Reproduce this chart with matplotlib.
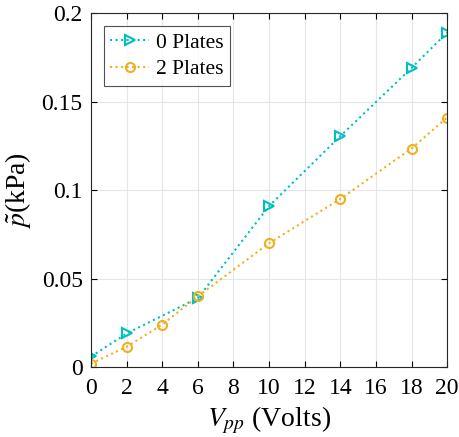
import matplotlib
matplotlib.use("Agg")
import matplotlib.pyplot as plt

plt.rcParams['font.family'] = ['Liberation Serif', 'DejaVu Serif']
plt.rcParams['mathtext.fontset'] = 'stix'

volts = [0, 2, 6, 10, 14, 18, 20]
p_0plates = [0.006, 0.019, 0.039, 0.091, 0.1305, 0.169, 0.189]
volts_2 = [0, 2, 4, 6, 10, 14, 18, 20]
p_2plates = [0.002, 0.0115, 0.024, 0.040, 0.070, 0.095, 0.1235, 0.141]

fig = plt.figure(figsize=(4.6, 4.37), dpi=100)
ax = fig.add_axes([0.198, 0.160, 0.774, 0.810])

ax.plot(volts, p_0plates, ls=':', lw=1.5, color='#00BFBF', marker='>',
        mfc='none', ms=7, mew=1.5, label='0 Plates')
ax.plot(volts_2, p_2plates, ls=':', lw=1.5, color='#EDB120', marker='o',
        mfc='none', ms=6.5, mew=1.5, label='2 Plates')

ax.set_xlim(0, 20)
ax.set_ylim(0, 0.2)
ax.set_xticks(range(0, 21, 2))
ax.set_yticks([0, 0.05, 0.1, 0.15, 0.2])
ax.set_yticklabels(['0', '0.05', '0.1', '0.15', '0.2'])
ax.grid(True, color='#e6e6e6', lw=0.8)
ax.set_axisbelow(True)
ax.tick_params(direction='in', top=True, right=True, labelsize=17, length=4)
ax.tick_params(axis='x', pad=8)
ax.tick_params(axis='y', pad=6)
for s in ax.spines.values():
    s.set_color('#262626')
ax.set_xlabel(r'$V_{pp}$ (Volts)', fontsize=20, labelpad=4)
ax.set_ylabel(r'$\tilde{p}$(kPa)', fontsize=20, labelpad=6)

leg = ax.legend(loc='upper left', fontsize=15.5, fancybox=False, edgecolor='#262626',
                handlelength=1.8, handletextpad=0.3, borderpad=0.3, labelspacing=0.3,
                borderaxespad=0.6)
leg.get_frame().set_linewidth(0.8)

fig.savefig('out.png', dpi=100)
